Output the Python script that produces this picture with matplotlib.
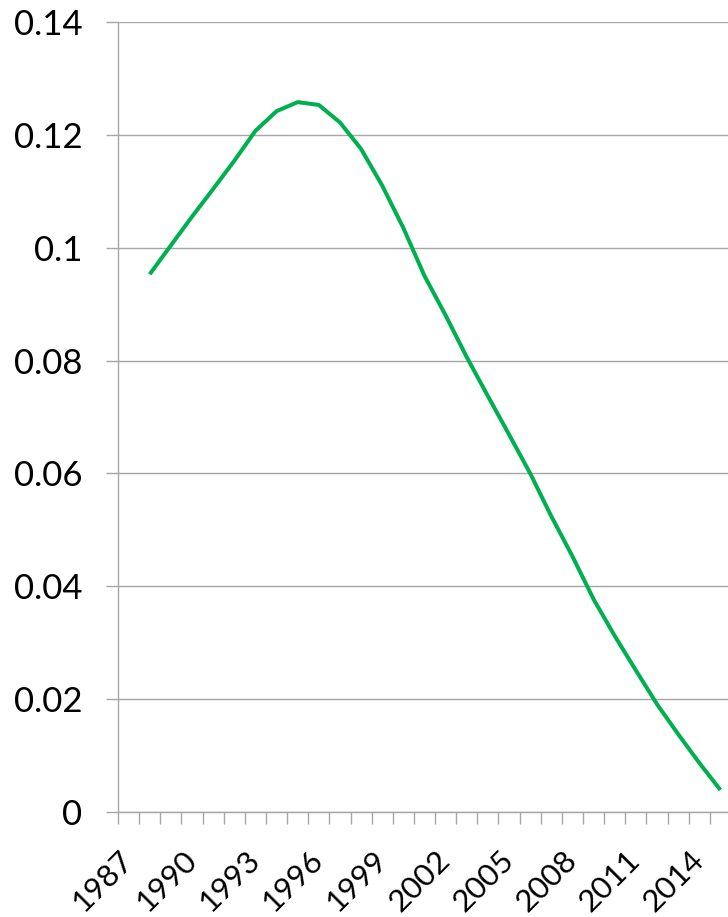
import matplotlib.pyplot as plt

# 年份与对应数值
years = list(range(1988, 2016))
values = [0.0953, 0.1004, 0.1055, 0.1104, 0.1154, 0.1207, 0.1242, 0.1258,
          0.1253, 0.1222, 0.1175, 0.1110, 0.1035, 0.0950, 0.0880, 0.0806,
          0.0737, 0.0669, 0.0600, 0.0524, 0.0453, 0.0377, 0.0312, 0.0251,
          0.0191, 0.0138, 0.0087, 0.0039]
label_years = list(range(1987, 2016, 3))
y_ticks = [0, 0.02, 0.04, 0.06, 0.08, 0.1, 0.12, 0.14]
y_labels = ['0', '0.02', '0.04', '0.06', '0.08', '0.1', '0.12', '0.14']

plt.rcParams['font.family'] = ['Lato', 'DejaVu Sans']
grey = '#a6a6a6'

fig = plt.figure(figsize=(7.28, 9.17), dpi=100)
ax = fig.add_axes([118 / 728, 105 / 917, 613 / 728, 790 / 917])

ax.plot(years, values, color='#00b050', linewidth=2.9, solid_capstyle='butt')

ax.set_xlim(1986.5, 2015.5)
ax.set_ylim(0, 0.14)

# y 轴与网格线
ax.set_yticks(y_ticks)
ax.set_yticklabels(y_labels, fontsize=25)
ax.yaxis.grid(True, color=grey, linewidth=1.0)
ax.set_axisbelow(True)
ax.tick_params(axis='y', length=8.5, width=1.0, color=grey, pad=17)

# x 轴：分类边界刻度 + 每三年一个标签（45°，右端对齐分类中心）
ax.set_xticks([y - 0.5 for y in range(1987, 2017)], minor=True)
ax.set_xticks(label_years)
ax.set_xticklabels([str(y) for y in label_years], rotation=45,
                   rotation_mode='anchor', ha='right', va='center',
                   fontsize=22.5)
ax.tick_params(axis='x', which='major', length=0, pad=31.5)
ax.tick_params(axis='x', which='minor', length=8.5, width=1.0, color=grey)

for side in ['top', 'right']:
    ax.spines[side].set_visible(False)
for side in ['left', 'bottom']:
    ax.spines[side].set_color(grey)
    ax.spines[side].set_linewidth(1.0)

fig.savefig('out.png', dpi=100)
